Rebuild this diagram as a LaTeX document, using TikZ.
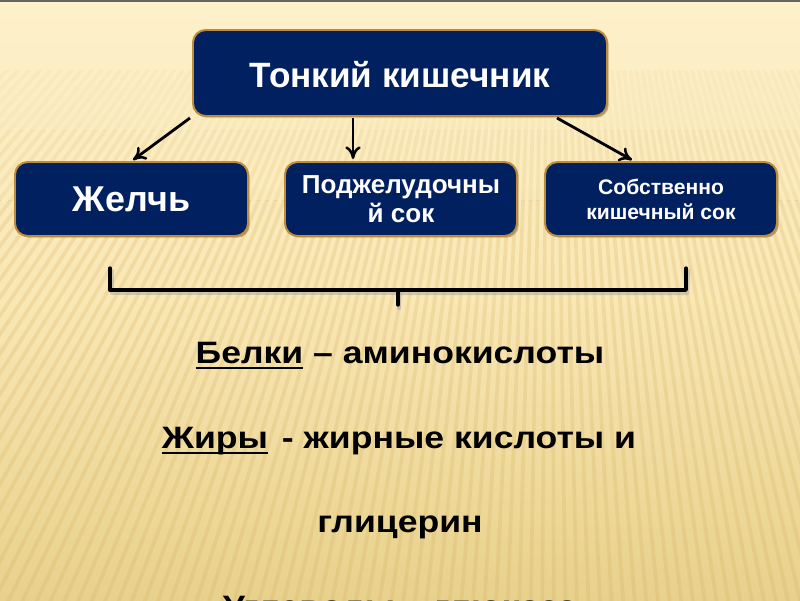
\documentclass[tikz,border=0pt]{standalone}
\usepackage{fontspec}
\setmainfont{Liberation Sans}
\newfontfamily\widefont[FakeStretch=1.15]{Liberation Sans}
\usetikzlibrary{arrows.meta,shadows}
\definecolor{navy}{RGB}{0,32,96}
\definecolor{goldedge}{RGB}{190,140,60}
\definecolor{bgtop}{RGB}{253,241,203}
\definecolor{bgmid}{RGB}{249,231,180}
\definecolor{bgbot}{RGB}{232,209,140}
\definecolor{stripe}{RGB}{210,172,90}
\newcommand\thickul[1]{\setbox0\hbox{#1}\rlap{\vrule width\wd0 height -2.6pt depth 4.3pt}\box0\relax}
\tikzset{
  box/.style={draw=goldedge, line width=1.4pt, fill=navy, rounded corners=9pt,
    text=white, font=\bfseries, align=center, inner sep=0pt,
    drop shadow={shadow xshift=1.2pt, shadow yshift=-1.2pt, opacity=0.35, fill=black!60!brown}},
  conn/.style={-{To[length=9pt,width=11pt,line width=1.8pt]}, line width=2pt, black},
  bracket/.style={line width=2.4pt, black, line cap=round, line join=round},
  bodytext/.style={font=\widefont\bfseries\fontsize{22pt}{26pt}\selectfont, text=black, inner sep=0pt, anchor=base},
  stripes/.style={stripe, line width=2.6pt}
}
\begin{document}
\begin{tikzpicture}[x=0.025cm, y=-0.025cm]
\useasboundingbox (0,0) rectangle (800,600);
\begin{scope}
\clip (0,0) rectangle (800,600);
% background
\shade[top color=bgtop, bottom color=bgbot, middle color=bgmid] (0,0) rectangle (800,600);
% faint fan stripes, stronger further down
\foreach \ya/\yb/\op in {70/130/0.07, 130/200/0.14, 200/600/0.22} {
  \begin{scope}
  \clip (0,\ya) rectangle (800,\yb);
  \foreach \a in {58,58.6,...,140} {
    \draw[stripes, opacity=\op] (550,-500) -- ++(\a:1500);
  }
  \end{scope}
}
\draw[black!60, line width=1.5pt] (0,0.5) -- (800,0.5);

% nodes
\node[box, minimum width=414*0.025cm, minimum height=86*0.025cm] (top) at (400,73) {};
\node[font=\bfseries\fontsize{25pt}{28pt}\selectfont, text=white, anchor=base, inner sep=0pt] (toptext) at (400,87) {Тонкий кишечник};
\node[box, minimum width=233*0.025cm, minimum height=74*0.025cm,
  font=\bfseries\fontsize{25.5pt}{28pt}\selectfont] (bile) at (131.5,199) {Желчь};
\node[box, minimum width=232*0.025cm, minimum height=74*0.025cm,
  font=\bfseries\fontsize{18.5pt}{20.6pt}\selectfont] (panc) at (401,199) {Поджелудочны\\й сок};
\node[box, minimum width=232*0.025cm, minimum height=74*0.025cm,
  font=\bfseries\fontsize{15pt}{17.7pt}\selectfont] (intest) at (661,199) {Собственно\\кишечный сок};

% connectors
\coordinate (s1) at (190,118);
\coordinate (s2) at (353,118);
\coordinate (s3) at (557,118);
\coordinate (e1) at (133,160);
\coordinate (e2) at (353,159);
\coordinate (e3) at (632,160);
\draw[conn] (s1) -- (e1);
\draw[conn] (s2) -- (e2);
\draw[conn] (s3) -- (e3);

% bracket
\coordinate (bl) at (110,268);
\coordinate (br) at (686,268);
\coordinate (bc) at (398,305);
\draw[bracket, black!35, opacity=0.5, line width=3pt] ([shift={(2,3)}]bl) -- (112,293) -- (399,293) -- ([shift={(1,3)}]bc);
\draw[bracket, black!35, opacity=0.5, line width=3pt] (400,293) -- (687,293) -- ([shift={(2,3)}]br);
\draw[bracket] (bl) -- (110,290) -- (398,290) -- (bc);
\draw[bracket] (398,290) -- (686,290) -- (br);

% body text
\node[bodytext] (t1) at (400,363) {\thickul{Белки} – аминокислоты};
\node[bodytext] (t2) at (399,448) {\thickul{Жиры}\hspace{0.45em}- жирные кислоты и};
\node[bodytext] (t3) at (400,532) {глицерин};
\node[bodytext] (t4) at (400,617) {Углеводы – глюкоза};
\end{scope}
\end{tikzpicture}
\end{document}
